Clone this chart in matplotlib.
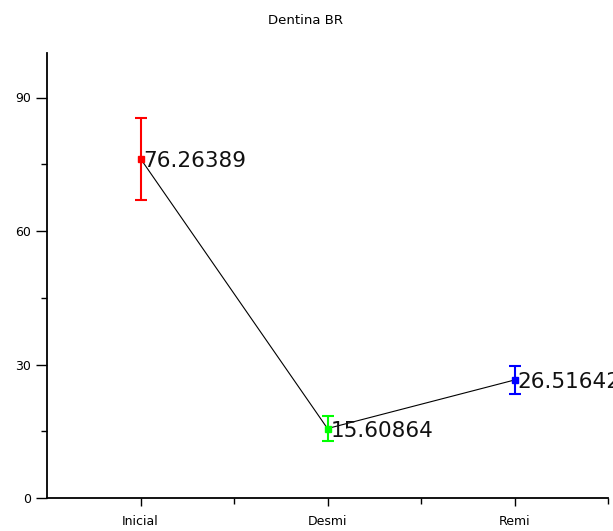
import matplotlib
matplotlib.use("Agg")
import matplotlib.pyplot as plt
from matplotlib.ticker import MultipleLocator

categories = ["Inicial", "Desmi", "Remi"]
means = [76.26389, 15.60864, 26.51642]
errors = [9.2, 2.9, 3.1]
colors = ["#ff0000", "#00ff00", "#0000ff"]
value_labels = ["76.26389", "15.60864", "26.51642"]

fig = plt.figure(figsize=(6.13, 5.31), dpi=100)
ax = fig.add_axes([47 / 613, 33 / 531, 561 / 613, 445 / 531])

xs = list(range(len(categories)))
ax.plot(xs, means, color="black", lw=0.8, zorder=2)
for x, m, e, c in zip(xs, means, errors, colors):
    ax.errorbar(x, m, yerr=e, fmt="s", color=c, ms=5, capsize=4,
                elinewidth=1.5, capthick=1.5, zorder=3)
for x, m, t in zip(xs, means, value_labels):
    ax.annotate(t, (x, m), xytext=(2, -1.5), textcoords="offset points",
                fontsize=15.5, va="center", ha="left", color="#111111",
                annotation_clip=False)

ax.set_xlim(-0.5, 2.5)
ax.set_ylim(0, 100)
ax.set_xticks(xs)
ax.set_xticklabels(categories, fontsize=9)
ax.set_xticks([0.5, 1.5, 2.5], minor=True)
ax.set_yticks([0, 30, 60, 90])
ax.yaxis.set_minor_locator(MultipleLocator(15))
ax.tick_params(axis="y", labelsize=9, length=8, width=1, direction="out")
ax.tick_params(axis="x", length=6, width=1, direction="out", pad=6)
ax.tick_params(which="minor", length=4, width=1)
for s in ["top", "right"]:
    ax.spines[s].set_visible(False)
for s in ["left", "bottom"]:
    ax.spines[s].set_linewidth(1.3)

fig.text(305 / 613, 1 - 20 / 531, "Dentina BR", ha="center", va="center", fontsize=9.5)

fig.savefig("out.png", dpi=100)
